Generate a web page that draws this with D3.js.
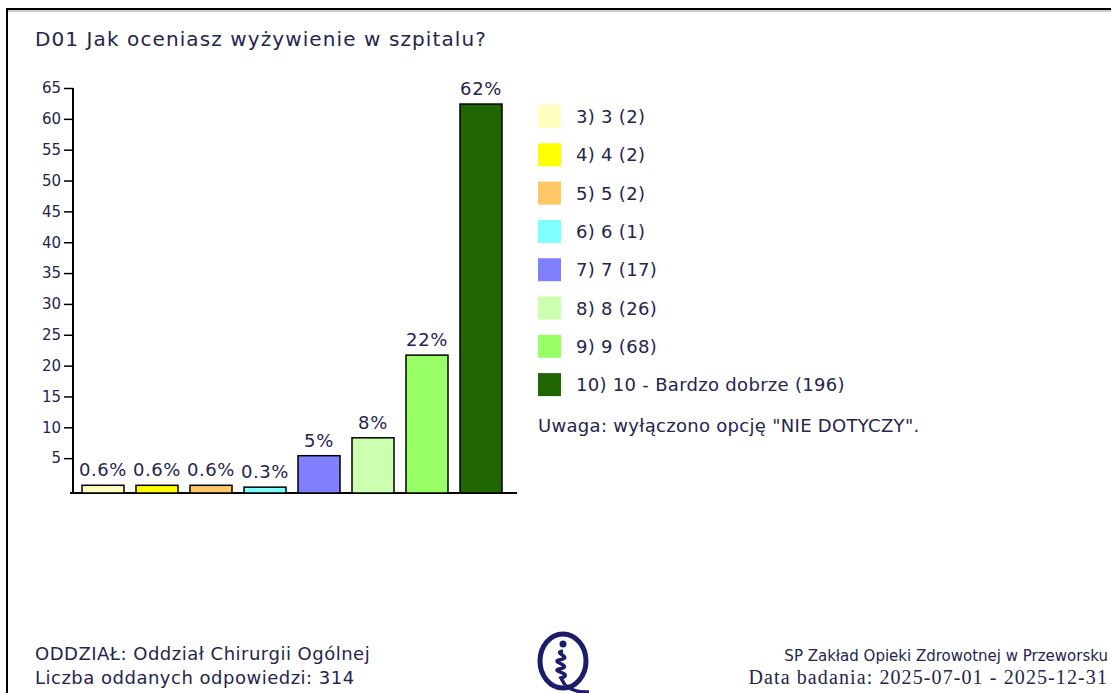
<!DOCTYPE html>
<html>
<head>
<meta charset="utf-8">
<script src="https://cdn.jsdelivr.net/npm/d3@7"></script>
<style>
  html, body { margin: 0; padding: 0; background: #fff; }
  svg { display: block; }
  text { font-family: "DejaVu Sans", Verdana, sans-serif; fill: #25254d; }
</style>
</head>
<body>
<script>
// chart data
var title = "D01 Jak oceniasz wyżywienie w szpitalu?";
var categories = ["3) 3", "4) 4", "5) 5", "6) 6", "7) 7", "8) 8", "9) 9", "10) 10 - Bardzo dobrze"];
var counts = [2, 2, 2, 1, 17, 26, 68, 196];
var percents = [0.6, 0.6, 0.6, 0.3, 5.4, 8.3, 21.7, 62.4];
var percentLabels = ["0.6%", "0.6%", "0.6%", "0.3%", "5%", "8%", "22%", "62%"];
var colors = ["#ffffc0", "#ffff00", "#ffc864", "#80ffff", "#8080ff", "#ccffb0", "#99ff66", "#1f6600"];
var yTicks = [5, 10, 15, 20, 25, 30, 35, 40, 45, 50, 55, 60, 65];
var note = "Uwaga: wyłączono opcję \"NIE DOTYCZY\".";
var footerLeft = ["ODDZIAŁ: Oddział Chirurgii Ogólnej", "Liczba oddanych odpowiedzi: 314"];
var footerRight = ["SP Zakład Opieki Zdrowotnej w Przeworsku", "Data badania: 2025-07-01 - 2025-12-31"];

var width = 1111, height = 693;

var svg = d3.select("body").append("svg")
    .attr("width", width)
    .attr("height", height);

// frame
svg.append("rect")
    .attr("x", 7).attr("y", 9)
    .attr("width", width + 20).attr("height", height + 20)
    .attr("fill", "none")
    .attr("stroke", "#000")
    .attr("stroke-width", 2);
svg.append("line")
    .attr("x1", 8).attr("x2", width)
    .attr("y1", 11).attr("y2", 11)
    .attr("stroke", "#999").attr("stroke-width", 1);

svg.append("text")
    .attr("x", 35).attr("y", 46)
    .attr("font-size", "20px")
    .attr("letter-spacing", "1.1px")
    .text(title);

var x = d3.scaleBand()
    .domain(categories)
    .range([76, 508])
    .paddingInner(12 / 54)
    .paddingOuter(6 / 54);

var y = d3.scaleLinear()
    .domain([0, 65])
    .range([489, 88]);

var baseY = 493;

var yAxis = svg.append("g")
    .attr("transform", "translate(73,0)")
    .call(d3.axisLeft(y).tickValues(yTicks).tickSize(9).tickSizeOuter(0).tickPadding(3));
yAxis.select(".domain").remove();
yAxis.selectAll(".tick line").attr("stroke", "#000").attr("stroke-width", 1.5);
yAxis.selectAll(".tick text")
    .attr("font-size", "15px")
    .attr("font-family", "DejaVu Sans, sans-serif")
    .attr("fill", "#25254d");

// axis lines
svg.append("line")
    .attr("x1", 73).attr("x2", 73)
    .attr("y1", y(65)).attr("y2", baseY)
    .attr("stroke", "#000").attr("stroke-width", 2);
svg.append("line")
    .attr("x1", 70).attr("x2", 517)
    .attr("y1", baseY).attr("y2", baseY)
    .attr("stroke", "#000").attr("stroke-width", 2);

// bars
svg.selectAll(".bar")
    .data(categories)
    .enter().append("rect")
    .attr("class", "bar")
    .attr("x", function(d) { return x(d); })
    .attr("y", function(d, i) { return y(percents[i]); })
    .attr("width", x.bandwidth())
    .attr("height", function(d, i) { return baseY - y(percents[i]); })
    .attr("fill", function(d, i) { return colors[i]; })
    .attr("stroke", "#000")
    .attr("stroke-width", 1.5);

svg.selectAll(".val")
    .data(categories)
    .enter().append("text")
    .attr("class", "val")
    .attr("x", function(d) { return x(d) + x.bandwidth() / 2; })
    .attr("y", function(d, i) { return y(percents[i]) - 9; })
    .attr("text-anchor", "middle")
    .attr("font-size", "18px")
    .attr("letter-spacing", "0.6px")
    .text(function(d, i) { return percentLabels[i]; });

// legend
var ly = d3.scaleLinear().domain([0, 1]).range([105, 143.3]);

var legend = svg.selectAll(".legend")
    .data(categories)
    .enter().append("g")
    .attr("class", "legend")
    .attr("transform", function(d, i) { return "translate(538," + ly(i) + ")"; });

legend.append("rect")
    .attr("width", 23).attr("height", 23)
    .attr("fill", function(d, i) { return colors[i]; });

legend.append("text")
    .attr("x", 38).attr("y", 18)
    .attr("font-size", "18px")
    .attr("letter-spacing", "0.3px")
    .text(function(d, i) { return d + " (" + counts[i] + ")"; });

svg.append("text")
    .attr("x", 538).attr("y", 432)
    .attr("font-size", "18px")
    .attr("letter-spacing", "0.3px")
    .text(note);

// footer
svg.selectAll(".fl")
    .data(footerLeft)
    .enter().append("text")
    .attr("class", "fl")
    .attr("x", 35)
    .attr("y", function(d, i) { return 660 + i * 24; })
    .attr("font-size", "18px")
    .attr("letter-spacing", "0.5px")
    .text(function(d) { return d; });

svg.append("text")
    .attr("x", 1108).attr("y", 661)
    .attr("text-anchor", "end")
    .attr("font-size", "15px")
    .text(footerRight[0]);
svg.append("text")
    .attr("x", 1108).attr("y", 684)
    .attr("text-anchor", "end")
    .attr("font-size", "20px")
    .attr("letter-spacing", "1.1px")
    .style("font-family", "'Liberation Serif', 'DejaVu Serif', serif")
    .text(footerRight[1]);

// logo
var logo = svg.append("g").attr("transform", "translate(563,661)");
logo.append("ellipse")
    .attr("rx", 23).attr("ry", 27)
    .attr("fill", "none")
    .attr("stroke", "#1c1c6a")
    .attr("stroke-width", 5);
logo.append("path")
    .attr("d", "M2,24 Q12,32 26,31")
    .attr("fill", "none").attr("stroke", "#1c1c6a").attr("stroke-width", 3.5);
logo.append("circle")
    .attr("cx", 0).attr("cy", -17).attr("r", 3.5)
    .attr("fill", "#1c1c6a");
logo.append("path")
    .attr("d", "M0,-10 C-12,-8 12,-4 -4,-1 C-13,1 12,5 -4,8 C-13,10 12,13 -2,17 L2,24")
    .attr("fill", "none").attr("stroke", "#1c1c6a").attr("stroke-width", 3.5);
</script>
</body>
</html>
